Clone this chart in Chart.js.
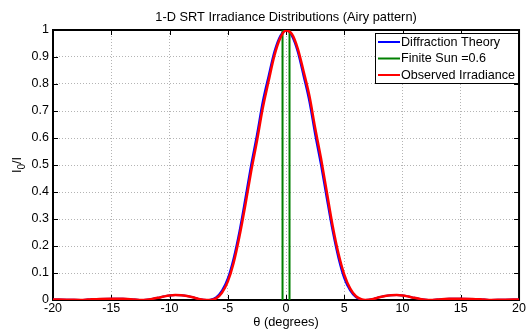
<!DOCTYPE html>
<html><head><meta charset="utf-8">
<script src="https://cdn.jsdelivr.net/npm/chart.js@4/dist/chart.umd.min.js"></script>
<style>html,body{margin:0;padding:0;background:#fff;}</style>
</head><body>
<canvas id="c" width="527" height="333"></canvas>
<script>
// angle (degrees)
const theta = [-20,-19.5,-18.5,-17.6,-17,-16,-15,-14,-13,-12.4,-12,-11.5,-11,-10.5,-10,-9.5,-9,-8.5,-8,-7.5,
  -6.8,-6.5,-6,-5.5,-5,-4.5,-4,-3.5,-3,-2.5,-2,-1.5,-1,-0.5,0,0.5,1,1.5,2,2.5,3,3.5,4,4.5,5,5.5,6,6.5,6.8,
  7.5,8,8.5,9,9.5,10,10.5,11,11.5,12,12.4,13,14,15,16,17,17.6,18.5,19.5,20];
// Diffraction theory I0/I
const theory = [0.002,0.002,0.001,0,0.0015,0.004,0.005,0.0045,0.002,0,0.001,0.004,0.008,0.013,0.017,0.0185,0.018,0.015,0.01,0.004,
  0,0.001,0.01,0.035,0.08,0.155,0.255,0.375,0.5,0.612,0.735,0.83,0.92,0.978,1,0.978,0.92,0.83,0.735,0.612,0.5,0.375,0.255,0.155,0.08,0.035,0.01,0.001,0,
  0.004,0.01,0.015,0.018,0.0185,0.017,0.013,0.008,0.004,0.001,0,0.002,0.0045,0.005,0.004,0.0015,0,0.001,0.002,0.002];
// Observed irradiance
const observed = [0.002,0.002,0.001,0,0.0015,0.004,0.005,0.0045,0.002,0,0.001,0.004,0.008,0.013,0.017,0.0185,0.018,0.015,0.01,0.004,
  0,0,0.006,0.027,0.068,0.137,0.235,0.35,0.475,0.588,0.71,0.81,0.905,0.97,0.998,0.985,0.932,0.848,0.757,0.637,0.525,0.40,0.275,0.172,0.094,0.043,0.014,0.002,0,
  0.004,0.01,0.015,0.018,0.0185,0.017,0.013,0.008,0.004,0.001,0,0.002,0.0045,0.005,0.004,0.0015,0,0.001,0.002,0.002];
// Finite sun edges (width 0.6)
const sunEdges = [-0.3, 0.3];
const sunLevels = [0, 1];
const xTickValues = [-20, -15, -10, -5, 0, 5, 10, 15, 20];
const yTickValues = [0, 0.1, 0.2, 0.3, 0.4, 0.5, 0.6, 0.7, 0.8, 0.9, 1];
const yTickLabels = ['0', '0.1', '0.2', '0.3', '0.4', '0.5', '0.6', '0.7', '0.8', '0.9', '1'];
const titleText = '1-D SRT Irradiance Distributions (Airy pattern)';
const xTitle = 'θ (degrees)';
const yTitleParts = ['I', '0', '/I'];
const seriesLabels = ['Diffraction Theory', 'Finite Sun =0.6', 'Observed Irradiance'];
const seriesColors = ['#0000ff', '#008000', '#ff0000'];

const FONT = '"Liberation Sans", Arial, sans-serif';
const toXY = (xs, ys) => xs.map((x, i) => ({x, y: ys[i]}));
const sunData = [
  {x: sunEdges[0], y: sunLevels[0]}, {x: sunEdges[0], y: sunLevels[1]}, {x: 0, y: null},
  {x: sunEdges[1], y: sunLevels[1]}, {x: sunEdges[1], y: sunLevels[0]}
];

const framePlugin = {
  id: 'frame',
  beforeDatasetsDraw(chart) {
    const {ctx, chartArea: a, scales: {x, y}} = chart;
    ctx.save();
    ctx.strokeStyle = '#000';
    ctx.lineWidth = 1;
    const tl = 5;
    ctx.beginPath();
    x.ticks.forEach(t => {
      const px = Math.round(x.getPixelForValue(t.value)) + 0.5;
      ctx.moveTo(px, a.bottom); ctx.lineTo(px, a.bottom - tl);
      ctx.moveTo(px, a.top); ctx.lineTo(px, a.top + tl);
    });
    y.ticks.forEach(t => {
      const py = Math.round(y.getPixelForValue(t.value)) + 0.5;
      ctx.moveTo(a.left, py); ctx.lineTo(a.left + tl, py);
      ctx.moveTo(a.right, py); ctx.lineTo(a.right - tl, py);
    });
    ctx.stroke();
    ctx.lineWidth = 2;
    ctx.strokeRect(a.left, a.top, a.right - a.left, a.bottom - a.top);
    ctx.restore();
  },
  afterDraw(chart) {
    const {ctx, chartArea: a} = chart;
    ctx.save();
    ctx.fillStyle = '#000';
    // title
    ctx.font = '12.8px ' + FONT;
    ctx.textAlign = 'center';
    ctx.textBaseline = 'middle';
    ctx.fillText(titleText, (a.left + a.right) / 2, 17);
    // y axis title with subscript
    ctx.save();
    ctx.translate(17, (a.top + a.bottom) / 2);
    ctx.rotate(-Math.PI / 2);
    ctx.textBaseline = 'alphabetic';
    ctx.textAlign = 'left';
    const big = '12.8px ' + FONT, small = '10px ' + FONT;
    ctx.font = big; const w0 = ctx.measureText(yTitleParts[0]).width;
    ctx.font = small; const w1 = ctx.measureText(yTitleParts[1]).width;
    ctx.font = big; const w2 = ctx.measureText(yTitleParts[2]).width;
    let cx = -(w0 + w1 + w2) / 2;
    ctx.font = big; ctx.fillText(yTitleParts[0], cx, 4); cx += w0;
    ctx.font = small; ctx.fillText(yTitleParts[1], cx, 8); cx += w1;
    ctx.font = big; ctx.fillText(yTitleParts[2], cx, 4);
    ctx.restore();
    // legend
    const bx = 375, by = 33, bw = 143, bh = 50;
    ctx.fillStyle = '#fff';
    ctx.fillRect(bx, by, bw, bh);
    ctx.strokeStyle = '#000';
    ctx.lineWidth = 1;
    ctx.strokeRect(bx + 0.5, by + 0.5, bw, bh);
    const rows = [42, 58.5, 75];
    ctx.font = '12.6px ' + FONT;
    ctx.textAlign = 'left';
    ctx.textBaseline = 'middle';
    seriesLabels.forEach((lab, i) => {
      ctx.strokeStyle = seriesColors[i];
      ctx.lineWidth = 2;
      ctx.beginPath();
      ctx.moveTo(bx + 3, rows[i]); ctx.lineTo(bx + 25, rows[i]);
      ctx.stroke();
      ctx.fillStyle = '#000';
      ctx.fillText(lab, bx + 26, rows[i] + 0.5);
    });
    ctx.restore();
  }
};

new Chart(document.getElementById('c'), {
  type: 'line',
  data: {
    datasets: [
      {label: seriesLabels[2], data: toXY(theta, observed), borderColor: seriesColors[2], borderWidth: 2.5,
       pointRadius: 0, cubicInterpolationMode: 'monotone', order: 0},
      {label: seriesLabels[1], data: sunData, borderColor: seriesColors[1], borderWidth: 2,
       pointRadius: 0, spanGaps: false, tension: 0, order: 1},
      {label: seriesLabels[0], data: toXY(theta, theory), borderColor: seriesColors[0], borderWidth: 2,
       pointRadius: 0, cubicInterpolationMode: 'monotone', order: 2}
    ]
  },
  options: {
    responsive: false,
    animation: false,
    devicePixelRatio: 1,
    layout: {padding: {top: 30, right: 6, left: 0, bottom: 0}},
    plugins: {legend: {display: false}, title: {display: false}, tooltip: {enabled: false}},
    scales: {
      x: {
        type: 'linear', min: xTickValues[0], max: xTickValues[xTickValues.length - 1],
        afterBuildTicks(s) { s.ticks = xTickValues.map(v => ({value: v})); },
        ticks: {color: '#000', font: {family: FONT, size: 12.5}, padding: 1, maxRotation: 0,
                callback: v => String(v)},
        grid: {drawTicks: false, color: '#b4b4b4', lineWidth: 1},
        border: {display: false, dash: [1, 2]},
        title: {display: true, text: xTitle, color: '#000', font: {family: FONT, size: 12.8}, padding: {top: 0, bottom: 3}},
        afterFit(s) { s.height = 33; }
      },
      y: {
        type: 'linear', min: yTickValues[0], max: yTickValues[yTickValues.length - 1],
        afterBuildTicks(s) { s.ticks = yTickValues.map(v => ({value: v})); },
        ticks: {color: '#000', font: {family: FONT, size: 12.5}, padding: 4,
                callback: (v, i) => yTickLabels[i]},
        grid: {drawTicks: false, color: '#b4b4b4', lineWidth: 1},
        border: {display: false, dash: [1, 2]},
        title: {display: false},
        afterFit(s) { s.width = 53; }
      }
    }
  },
  plugins: [framePlugin]
});
</script>
</body></html>
